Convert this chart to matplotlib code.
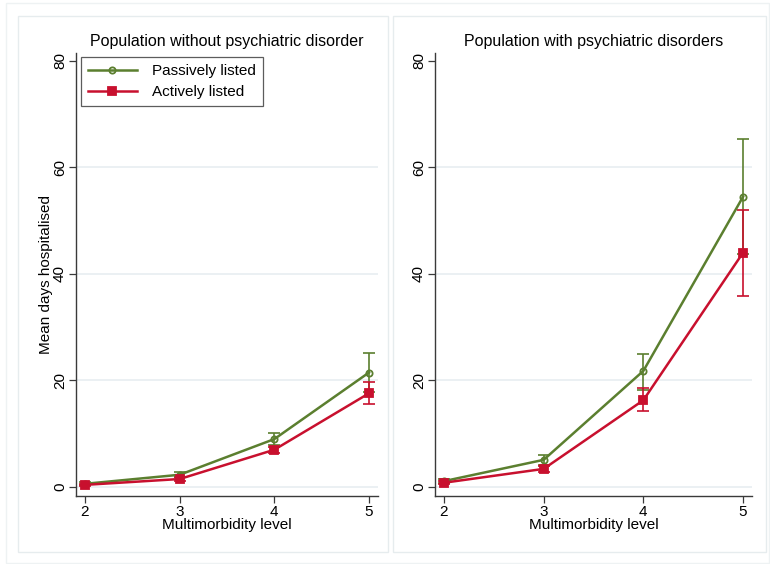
import matplotlib
matplotlib.use("Agg")
import matplotlib.pyplot as plt
from matplotlib.patches import Rectangle
import numpy as np

plt.rcParams['font.family'] = ['Liberation Sans', 'DejaVu Sans']

levels = [2, 3, 4, 5]

# Population without psychiatric disorder
no_psych_passive = [0.6, 2.3, 9.0, 21.5]
no_psych_passive_lo = [0.3, 1.8, 7.9, 17.8]
no_psych_passive_hi = [0.9, 2.8, 10.1, 25.2]
no_psych_active = [0.4, 1.5, 7.0, 17.6]
no_psych_active_lo = [0.2, 1.2, 6.4, 15.6]
no_psych_active_hi = [0.6, 1.8, 7.6, 19.7]

# Population with psychiatric disorders
psych_passive = [1.1, 5.1, 21.8, 54.5]
psych_passive_lo = [0.7, 4.2, 18.3, 43.8]
psych_passive_hi = [1.5, 6.0, 25.0, 65.4]
psych_active = [0.8, 3.4, 16.3, 44.0]
psych_active_lo = [0.5, 2.9, 14.2, 35.9]
psych_active_hi = [1.1, 3.9, 18.6, 52.0]

titles = ["Population without psychiatric disorder", "Population with psychiatric disorders"]
series_labels = ["Passively listed", "Actively listed"]
y_ticks = [0, 20, 40, 60, 80]

GREEN = "#5B7F2F"
RED = "#C8102E"
GRID = "#E8EEF1"
AXIS = "#3A3A3A"

fig = plt.figure(figsize=(7.7, 5.64), dpi=100)

# outer frame and panel frames
W, H = 770.0, 564.0
def frame(x0, y0, x1, y1, color):
    fig.patches.append(Rectangle((x0 / W, 1 - y1 / H), (x1 - x0) / W, (y1 - y0) / H,
                                 transform=fig.transFigure, fill=False,
                                 edgecolor=color, linewidth=1.0, zorder=0))
frame(6, 3, 769, 563, "#EEF2F3")
frame(18, 16, 388, 552, "#E6ECEE")
frame(393, 16, 766, 552, "#E6ECEE")

ax1 = fig.add_axes([76 / W, 1 - 496 / H, (378 - 76) / W, (496 - 53) / H])
ax2 = fig.add_axes([435 / W, 1 - 496 / H, (752 - 435) / W, (496 - 53) / H])

panels = [
    (ax1, (no_psych_passive, no_psych_passive_lo, no_psych_passive_hi),
     (no_psych_active, no_psych_active_lo, no_psych_active_hi), (1.905, 5.095)),
    (ax2, (psych_passive, psych_passive_lo, psych_passive_hi),
     (psych_active, psych_active_lo, psych_active_hi), (1.91, 5.09)),
]

for i, (ax, pas, act, xl) in enumerate(panels):
    x = np.array(levels)
    for (vals, lo, hi), color, marker, ms, mfc, lab in [
        (pas, GREEN, 'o', 4.5, 'none', series_labels[0]),
        (act, RED, 's', 5.5, RED, series_labels[1]),
    ]:
        vals = np.array(vals); lo = np.array(lo); hi = np.array(hi)
        ax.errorbar(x, vals, yerr=[vals - lo, hi - vals], fmt='none',
                    ecolor=color, elinewidth=1.2, capsize=4, capthick=1.2, zorder=3)
        ax.plot(x, vals, color=color, linewidth=1.8, marker=marker,
                markersize=ms, markerfacecolor=mfc, markeredgecolor=color,
                markeredgewidth=1.3, label=lab, zorder=4)
    ax.set_xlim(*xl)
    ax.set_ylim(-1.69, 81.5)
    ax.set_xticks(levels)
    ax.set_yticks(y_ticks)
    ax.set_yticklabels([str(t) for t in y_ticks], rotation=90, va='center')
    for t in [0, 20, 40, 60]:
        ax.axhline(t, color=GRID, linewidth=1.2, zorder=1)
    for s in ['top', 'right']:
        ax.spines[s].set_visible(False)
    for s in ['left', 'bottom']:
        ax.spines[s].set_color(AXIS)
        ax.spines[s].set_linewidth(1.0)
    ax.tick_params(axis='both', direction='out', length=5, width=0.9,
                   color=AXIS, labelsize=11, pad=1.5)
    ax.set_xlabel("Multimorbidity level", fontsize=11, labelpad=-1)
    ax.set_title(titles[i], fontsize=11.5, pad=5)

ax1.set_ylabel("Mean days hospitalised", fontsize=11, labelpad=0)

leg = ax1.legend(loc='upper left', bbox_to_anchor=(5 / 302, 1 - 4 / 443),
                 borderaxespad=0, fontsize=11,
                 frameon=True, fancybox=False, edgecolor='#333333',
                 handlelength=3.2, borderpad=0.45, labelspacing=0.48,
                 handletextpad=1.0)
leg.get_frame().set_linewidth(0.9)

fig.savefig("out.png", dpi=100)
